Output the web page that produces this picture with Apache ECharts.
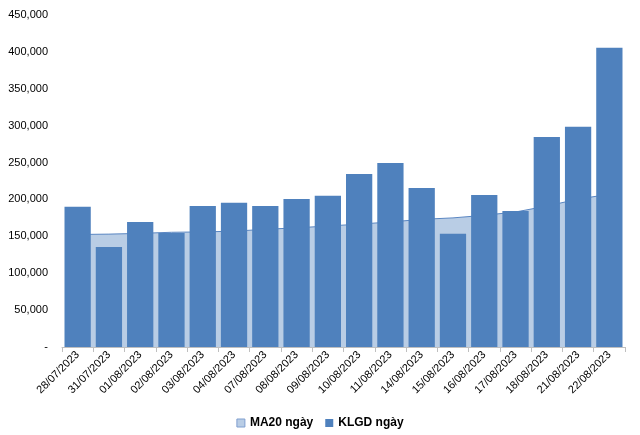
<!DOCTYPE html>
<html><head><meta charset="utf-8">
<script src="https://cdn.jsdelivr.net/npm/echarts@6/dist/echarts.min.js"></script>
<style>html,body{margin:0;padding:0;background:#fff}#c{width:640px;height:435px}</style>
</head><body><div id="c"></div>
<script>
const categories = ['28/07/2023','31/07/2023','01/08/2023','02/08/2023','03/08/2023','04/08/2023','07/08/2023','08/08/2023','09/08/2023','10/08/2023','11/08/2023','14/08/2023','15/08/2023','16/08/2023','17/08/2023','18/08/2023','21/08/2023','22/08/2023'];
const klgd = [190000,135500,169500,154500,191000,195500,191000,200500,205000,234500,249500,215500,153500,206000,184500,284500,298500,405500];
const ma20 = [152500,153000,154000,155500,156000,157000,159500,161500,164000,166500,169500,173000,175000,178500,183000,191000,200500,207000];
const yTicks = [0,50000,100000,150000,200000,250000,300000,350000,400000,450000];

const chart = echarts.init(document.getElementById('c'));
const fmt = v => v === 0 ? '-' : v.toLocaleString('en-US');
chart.setOption({
  animation:false,
  textStyle:{fontFamily:'Liberation Sans, Arial, sans-serif'},
  grid:{left:62,right:15,top:15,bottom:88},
  legend:{
    bottom:1,left:'center',itemWidth:8,itemHeight:8,itemGap:12,
    textStyle:{fontSize:12,fontWeight:'bold',color:'#000'},
    data:[{name:'MA20 ngày',icon:'rect',itemStyle:{color:'#B9CDE5',borderColor:'#7F9FCF',borderWidth:1}},{name:'KLGD ngày',icon:'rect'}]
  },
  xAxis:{
    type:'category',data:categories,
    axisLine:{lineStyle:{color:'#BFBFBF'}},
    axisTick:{show:true,alignWithLabel:false,lineStyle:{color:'#BFBFBF'},length:5},
    axisLabel:{rotate:45,fontSize:11,color:'#000',interval:0,margin:6}
  },
  yAxis:{
    type:'value',min:0,max:450000,interval:50000,
    axisLine:{show:false},axisTick:{show:false},splitLine:{show:false},
    axisLabel:{fontSize:11,color:'#000',margin:14,formatter:fmt}
  },
  series:[
    {name:'MA20 ngày',type:'line',data:ma20,symbol:'none',z:1,
     lineStyle:{color:'#5A86C2',width:1},
     itemStyle:{color:'#B9CDE5'},
     areaStyle:{color:'#B9CDE5',opacity:1}},
    {name:'KLGD ngày',type:'bar',data:klgd,z:2,barCategoryGap:'16%',
     itemStyle:{color:'#4F81BD'}}
  ]
});
</script></body></html>
